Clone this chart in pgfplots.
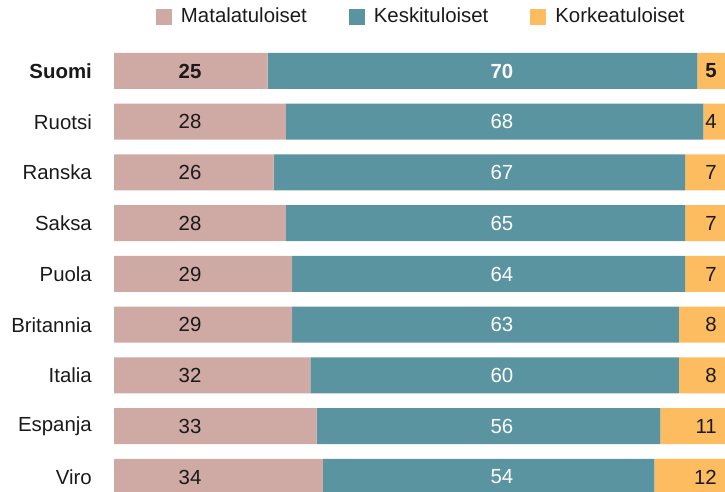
\documentclass[border=0pt]{standalone}
\usepackage{fontspec}
\setmainfont{Liberation Sans}
\usepackage{pgfplots}
\pgfplotsset{compat=1.18}
\definecolor{matala}{HTML}{CFA9A3}
\definecolor{keski}{HTML}{5A94A0}
\definecolor{korkea}{HTML}{FDBC5F}
\definecolor{teksti}{HTML}{1A1A1A}
\begin{document}
\fontsize{20.4pt}{24pt}\selectfont
\begin{tikzpicture}
\begin{axis}[
    scale only axis,
    width=725pt, height=492pt,
    xmin=-18.567, xmax=99.511,
    ymin=-1.399, ymax=8.296,
    y dir=reverse,
    axis lines=none,
    ticks=none,
    xbar stacked,
    bar width=36pt,
    legend columns=3,
    legend style={draw=none, fill=none, inner sep=0pt, outer sep=0pt,
        at={(rel axis cs:0.21517,0.96646)}, anchor=west,
        font=\fontsize{20.4pt}{24pt}\selectfont, text=teksti,
        nodes={inner sep=0pt, anchor=west},
        /tikz/every odd column/.append style={column sep=9pt},
        /tikz/every even column/.append style={column sep=42pt}},
]
\addplot[draw=none, fill=matala,
    legend image code/.code={\fill[matala] (0pt,-8pt) rectangle (16pt,8pt);}]
    coordinates {(25,0) (28,1) (26,2) (28,3) (29,4) (29,5) (32,6) (33,7) (34,8)};
\addlegendentry{Matalatuloiset}
\addplot[draw=none, fill=keski,
    legend image code/.code={\fill[keski] (0pt,-8pt) rectangle (16pt,8pt);}]
    coordinates {(70,0) (68,1) (67,2) (65,3) (64,4) (63,5) (60,6) (56,7) (54,8)};
\addlegendentry{Keskituloiset}
\addplot[draw=none, fill=korkea,
    legend image code/.code={\fill[korkea] (0pt,-8pt) rectangle (16pt,8pt);}]
    coordinates {(5,0) (4,1) (7,2) (7,3) (7,4) (8,5) (8,6) (11,7) (12,8)};
\addlegendentry{Korkeatuloiset}

\coordinate (bl) at (rel axis cs:0,0);
\coordinate (tr) at (rel axis cs:1,1);
% sarakkeiden x-paikat
\coordinate (xn) at (axis cs:-3.58,0);
\coordinate (xm) at (axis cs:12.38,0);
\coordinate (xk) at (axis cs:63.19,0);
\coordinate (xo) at (axis cs:98.2,0);
% rivit
\coordinate (r0) at (axis cs:0,0);
\coordinate (r1) at (axis cs:0,1);
\coordinate (r2) at (axis cs:0,2);
\coordinate (r3) at (axis cs:0,3);
\coordinate (r4) at (axis cs:0,4);
\coordinate (r5) at (axis cs:0,5);
\coordinate (r6) at (axis cs:0,6);
\coordinate (r7) at (axis cs:0,7);
\coordinate (r8) at (axis cs:0,8);
\end{axis}

\begin{scope}[every node/.style={inner sep=0pt, text=teksti}]
% maiden nimet
\node[anchor=east] at (xn |- r0) {\bfseries Suomi};
\node[anchor=east] at (xn |- r1) {Ruotsi};
\node[anchor=east] at (xn |- r2) {Ranska};
\node[anchor=east] at (xn |- r3) {Saksa};
\node[anchor=east] at (xn |- r4) {Puola};
\node[anchor=east] at (xn |- r5) {Britannia};
\node[anchor=east] at (xn |- r6) {Italia};
\node[anchor=east] at (xn |- r7) {Espanja};
\node[anchor=east] at (xn |- r8) {Viro};

% matalatuloiset
\node at (xm |- r0) {\bfseries 25};
\node at (xm |- r1) {28};
\node at (xm |- r2) {26};
\node at (xm |- r3) {28};
\node at (xm |- r4) {29};
\node at (xm |- r5) {29};
\node at (xm |- r6) {32};
\node at (xm |- r7) {33};
\node at (xm |- r8) {34};

% keskituloiset
\node[text=white] at (xk |- r0) {\bfseries 70};
\node[text=white] at (xk |- r1) {68};
\node[text=white] at (xk |- r2) {67};
\node[text=white] at (xk |- r3) {65};
\node[text=white] at (xk |- r4) {64};
\node[text=white] at (xk |- r5) {63};
\node[text=white] at (xk |- r6) {60};
\node[text=white] at (xk |- r7) {56};
\node[text=white] at (xk |- r8) {54};

% korkeatuloiset
\node[anchor=east] at (xo |- r0) {\bfseries 5};
\node[anchor=east] at (xo |- r1) {4};
\node[anchor=east] at (xo |- r2) {7};
\node[anchor=east] at (xo |- r3) {7};
\node[anchor=east] at (xo |- r4) {7};
\node[anchor=east] at (xo |- r5) {8};
\node[anchor=east] at (xo |- r6) {8};
\node[anchor=east] at (xo |- r7) {11};
\node[anchor=east] at (xo |- r8) {12};
\end{scope}

\pgfresetboundingbox
\path (bl) rectangle (tr);
\end{tikzpicture}
\end{document}
